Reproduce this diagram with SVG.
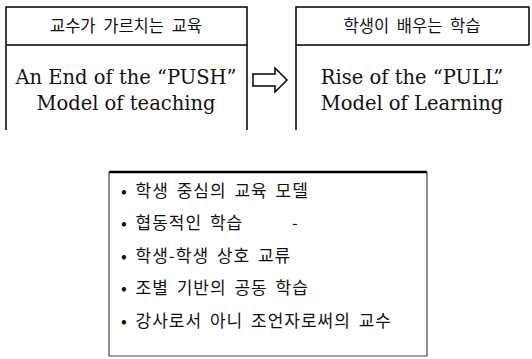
<svg xmlns="http://www.w3.org/2000/svg" width="532" height="359" viewBox="0 0 532 359">
<style>
.ln{stroke:#000;stroke-width:1.5;fill:none}
.kt{font-family:"Noto Sans CJK KR","Noto Sans",sans-serif;font-size:16.5px;fill:#111;word-spacing:4px}
.li{font-size:17px;letter-spacing:1px;word-spacing:3px}
.en{font-family:"DejaVu Serif","Liberation Serif",serif;font-size:19.5px;fill:#111;text-anchor:middle}
.tt{text-anchor:middle}
</style>
<rect width="532" height="359" fill="#fff"/>
<g id="node-push">
<path class="ln" d="M6,130 V7 H247 V130 M6,45 H247"/>
<text class="kt tt" x="126" y="32">교수가 가르치는 교육</text>
<text class="en" x="126" y="84">An End of the “PUSH”</text>
<text class="en" x="126" y="110">Model of teaching</text>
</g>
<g id="connectors">
<polygon points="253,74 275,74 275,68 287,80 275,92 275,86 253,86" fill="#fff" stroke="#000" stroke-width="1.5" stroke-linejoin="miter"/>
</g>
<g id="node-pull">
<path class="ln" d="M296,130 V7 H529 V45 M296,45 H529"/>
<text class="kt tt" x="412" y="32">학생이 배우는 학습</text>
<text class="en" x="412" y="84">Rise of the “PULL”</text>
<text class="en" x="412" y="110">Model of Learning</text>
</g>
<g id="node-list">
<path d="M109,172 H427" stroke="#000" stroke-width="2.5"/>
<path d="M109,172 V356 H427 V172" stroke="#444" stroke-width="1.2" fill="none"/>
<text class="kt li" x="121" y="197">• 학생 중심의 교육 모델</text>
<text class="kt li" x="121" y="229">• 협동적인 학습</text>
<text class="kt" x="292" y="229" font-size="10">-</text>
<text class="kt li" x="121" y="262">• 학생-학생 상호 교류</text>
<text class="kt li" x="121" y="294">• 조별 기반의 공동 학습</text>
<text class="kt li" x="121" y="327">• 강사로서 아니 조언자로써의 교수</text>
</g>
</svg>
